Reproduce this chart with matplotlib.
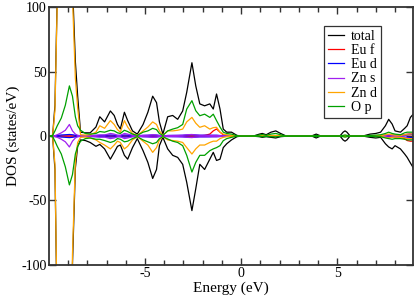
import matplotlib
matplotlib.use("Agg")
import matplotlib.pyplot as plt
from matplotlib.ticker import MultipleLocator

plt.rcParams['font.family'] = ['Liberation Serif', 'DejaVu Serif']
plt.rcParams['axes.unicode_minus'] = False

energy = [-10.0, -9.8, -9.68, -9.56, -9.35, -9.14, -8.93, -8.77, -8.62, -8.5,
          -8.35, -8.1, -7.85, -7.55, -7.35, -7.1, -6.8, -6.6, -6.43, -6.28,
          -6.07, -5.9, -5.65, -5.4, -5.1, -4.85, -4.6, -4.4, -4.25, -4.07,
          -3.82, -3.56, -3.3, -3.04, -2.83, -2.56, -2.36, -2.15, -1.9, -1.63,
          -1.45, -1.28, -1.1, -0.93, -0.75, -0.5, -0.22, 0.0, 0.4, 0.7,
          0.95, 1.1, 1.3, 1.55, 1.8, 2.05, 2.3, 3.7, 3.9, 4.1,
          5.15, 5.3, 5.4, 5.5, 5.65, 6.4, 6.7, 7.0, 7.25, 7.5,
          7.67, 7.85, 8.0, 8.28, 8.5, 8.63, 8.8, 9.0]

total_up = [0, 0.5, 24, 110, 262, 312, 272, 118, 58, 31,
            3, 2.5, 2.5, 7, 15, 11, 19.5, 16, 9, 5.5,
            18.5, 12, 4, 1.5, 9, 18.5, 31, 26, 11, 1.5,
            15, 16, 13, 19.5, 34, 57, 39, 25, 23.5, 25,
            21, 32.7, 21, 5.4, 3, 3, 0.5, 0, 0, 0.3,
            1.5, 2, 1, 3, 4, 2, 0.3, 0.3, 1.5, 0.3,
            0.3, 3, 4, 3, 0.3, 0.3, 1.5, 2, 3, 8,
            13, 9.3, 4, 3, 6, 8, 14.5, 18]
total_dn = [0, -0.5, -26, -150, -265, -315, -275, -100, -25, -8,
            -3, -3.5, -5, -8, -6.5, -10, -18, -12.7, -8, -7,
            -15, -18, -9, -2, -11.4, -20.5, -33, -26, -7.5, -1,
            -10, -15, -16.6, -22, -36, -58, -41, -22, -26, -18,
            -12.7, -19, -18, -9, -6, -3, -0.5, 0, 0, -0.2,
            -0.5, -1, -0.5, -1, -1.5, -0.5, -0.2, -0.2, -1.5, -0.2,
            -0.2, -3, -4, -3, -0.2, -0.2, -1, -1.5, -1, -6,
            -8.5, -10, -7.5, -10, -14, -16.6, -21, -26]

eu_f_up = [0, 0, 0, 0, 0, 0, 0, 0, 0, 0,
           0, 0, 0, 0, 0, 0, 0, 0, 0, 0,
           0, 0, 0, 0, 0, 0, 0, 0, 0, 0,
           0, 0, 0, 0, 0, 0, 0, 0.1, 0.5, 1.5,
           4, 5.5, 3, 1, 0.4, 0.1, 0, 0, 0, 0,
           0, 0, 0, 0, 0, 0, 0, 0, 0, 0,
           0, 0, 0, 0, 0, 0, 0, 0, 0, 0.2,
           0.3, 0.3, 0.3, 0.5, 0.8, 1, 1, 1]
eu_f_dn = [0, 0, 0, 0, 0, 0, 0, 0, 0, 0,
           0, 0, 0, 0, 0, 0, 0, 0, 0, 0,
           0, 0, 0, 0, 0, 0, 0, 0, 0, 0,
           0, 0, 0, 0, 0, 0, 0, 0, -0.1, -0.2,
           -0.3, -0.3, -0.2, -0.1, 0, 0, 0, 0, 0, 0,
           0, 0, 0, 0, 0, 0, 0, 0, 0, 0,
           0, 0, 0, 0, 0, 0, 0, 0, 0, -0.3,
           -0.5, -0.5, -0.8, -1, -2, -3.5, -4, -4]

eu_d_up = [0, 0.1, 0.3, 0.5, 0.8, 1, 1.2, 1, 0.6, 0.4,
           0.3, 0.3, 0.4, 0.5, 0.6, 0.6, 0.8, 0.7, 0.5, 0.5,
           0.8, 0.7, 0.4, 0.2, 0.5, 0.6, 0.8, 0.7, 0.4, 0.2,
           0.4, 0.5, 0.5, 0.6, 0.8, 1, 0.8, 0.6, 0.6, 0.6,
           0.6, 0.6, 0.4, 0.3, 0.2, 0.1, 0, 0, 0, 0,
           0.1, 0.2, 0.1, 0.2, 0.2, 0.1, 0, 0, 0.1, 0,
           0, 0.2, 0.3, 0.2, 0, 0, 0.1, 0.2, 0.2, 0.5,
           0.8, 0.6, 0.5, 0.5, 0.8, 1, 1.2, 1.2]
eu_d_dn = [0, -0.1, -0.3, -0.5, -0.8, -1, -1.2, -1, -0.6, -0.4,
           -0.3, -0.3, -0.4, -0.5, -0.6, -0.6, -0.8, -0.7, -0.5, -0.5,
           -0.8, -0.7, -0.4, -0.2, -0.5, -0.6, -0.8, -0.7, -0.4, -0.2,
           -0.4, -0.5, -0.5, -0.6, -0.8, -1, -0.8, -0.6, -0.6, -0.6,
           -0.5, -0.5, -0.4, -0.3, -0.2, -0.1, 0, 0, 0, 0,
           -0.1, -0.2, -0.1, -0.2, -0.2, -0.1, 0, 0, -0.1, 0,
           0, -0.2, -0.3, -0.2, 0, 0, -0.1, -0.2, -0.2, -0.5,
           -0.8, -0.6, -0.5, -0.5, -0.8, -1, -1.2, -1.2]

zn_s_up = [0, 0.1, 0.3, 1, 2.5, 4.5, 9, 4, 1.5, 0.5,
           0.2, 0.3, 0.3, 0.5, 0.8, 0.8, 2, 1.5, 0.5, 0.5,
           2, 1.5, 0.5, 0.2, 0.5, 0.6, 1, 0.8, 0.4, 0.1,
           0.4, 0.4, 0.5, 0.6, 1, 1.2, 0.8, 0.6, 0.6, 0.5,
           0.5, 0.5, 0.3, 0.2, 0.1, 0.1, 0, 0, 0, 0,
           0.1, 0.2, 0.1, 0.2, 0.3, 0.1, 0, 0, 0.1, 0,
           0, 0.2, 0.3, 0.2, 0, 0, 0.1, 0.1, 0.2, 0.5,
           0.8, 0.5, 0.5, 0.5, 1, 1.5, 2, 2]
zn_s_dn = [0, -0.1, -0.3, -1, -2.5, -4.5, -8.5, -4, -1.5, -0.5,
           -0.2, -0.3, -0.3, -0.5, -0.8, -0.8, -2, -1.5, -0.5, -0.5,
           -2, -1.5, -0.5, -0.2, -0.5, -0.6, -1, -0.8, -0.4, -0.1,
           -0.4, -0.4, -0.5, -0.6, -1, -1.2, -0.8, -0.6, -0.6, -0.5,
           -0.5, -0.5, -0.3, -0.2, -0.1, -0.1, 0, 0, 0, 0,
           -0.1, -0.2, -0.1, -0.2, -0.3, -0.1, 0, 0, -0.1, 0,
           0, -0.2, -0.3, -0.2, 0, 0, -0.1, -0.1, -0.2, -0.5,
           -0.8, -0.5, -0.5, -0.5, -1, -1.5, -2, -2]

zn_d_up = [0, 0.3, 20, 105, 250, 300, 262, 108, 45, 22,
           1, 0.8, 1, 3, 8, 6, 12, 9, 5, 3,
           12, 7, 2, 0.5, 4, 7, 11, 9, 4, 0.5,
           4, 4, 4.5, 5.4, 11, 14.5, 10, 6.8, 8, 5.4,
           6.5, 6.8, 3, 1.5, 1, 0.5, 0.1, 0, 0, 0,
           0.2, 0.3, 0.2, 0.3, 0.4, 0.2, 0, 0, 0.2, 0,
           0, 0.3, 0.5, 0.3, 0, 0, 0.2, 0.3, 0.3, 1,
           1.5, 1, 0.8, 0.5, 1, 1.5, 1.5, 2]
zn_d_dn = [0, -0.3, -22, -145, -255, -305, -265, -92, -20, -5,
           -1, -0.8, -1.5, -3, -5, -7, -10, -7, -4, -5,
           -10, -8, -3, -0.5, -4, -7, -12.7, -9, -3, -0.5,
           -3, -3.5, -4, -5, -9, -14, -10, -7, -7, -5,
           -4, -4, -2, -1, -0.5, -0.3, -0.1, 0, 0, 0,
           -0.1, -0.2, -0.1, -0.2, -0.2, -0.1, 0, 0, -0.2, 0,
           0, -0.3, -0.5, -0.3, 0, 0, -0.2, -0.3, -0.3, -1,
           -1.5, -1, -0.8, -1, -1.5, -2, -2, -2]

o_p_up = [0, 0.5, 4, 8, 14, 24, 39, 31, 15, 8,
          4.5, 2, 1.5, 2, 3.5, 3, 4.5, 4, 2.5, 2,
          4.5, 3.5, 1.5, 0.5, 3, 4, 6, 5, 2, 0.5,
          4, 5.4, 6.5, 9, 21, 27.5, 19.7, 15.8, 17, 14.5,
          17, 12, 7, 3, 2, 1.5, 0.3, 0, 0, 0.2,
          0.8, 1.2, 0.6, 1.5, 2, 1, 0.1, 0.1, 0.5, 0.1,
          0.1, 0.5, 0.8, 0.5, 0.1, 0.1, 0.5, 0.7, 1, 2,
          3, 2, 1.5, 1, 2.5, 3, 3, 3]
o_p_dn = [0, -0.5, -4, -8, -14, -24, -38, -30, -14, -8,
          -4, -2, -1.5, -2.5, -2.5, -3.5, -5, -4, -2, -2.5,
          -4.5, -4, -2, -0.5, -3, -4.5, -6, -5, -2, -0.5,
          -2.3, -4, -5, -7.5, -15, -28, -20.5, -15, -15, -11.4,
          -10, -9, -7.5, -3.6, -2, -1, -0.2, 0, 0, -0.1,
          -0.3, -0.5, -0.3, -0.5, -0.6, -0.3, -0.1, -0.1, -0.5, -0.1,
          -0.1, -0.5, -0.8, -0.5, -0.1, -0.1, -0.3, -0.5, -0.5, -1.5,
          -2, -2.5, -2, -2, -2.5, -3, -3, -3]

labels = ['total', 'Eu f', 'Eu d', 'Zn s', 'Zn d', 'O p']
colors = ['#000000', '#ff0000', '#0000ff', '#a020f0', '#ffa500', '#00a000']
series_up = [total_up, eu_f_up, eu_d_up, zn_s_up, zn_d_up, o_p_up]
series_dn = [total_dn, eu_f_dn, eu_d_dn, zn_s_dn, zn_d_dn, o_p_dn]

fig = plt.figure(figsize=(4.15, 2.98), dpi=100)
ax = fig.add_axes([0.119, 0.112, 0.876, 0.863])

for lab, col, up, dn in zip(labels, colors, series_up, series_dn):
    ax.plot(energy, up, color=col, lw=0.9, label=lab)
    ax.plot(energy, dn, color=col, lw=0.9)

ax.set_xlim(-9.97, 8.93)
ax.set_ylim(-100, 100)
ax.xaxis.set_major_locator(MultipleLocator(5))
ax.xaxis.set_minor_locator(MultipleLocator(1))
ax.yaxis.set_major_locator(MultipleLocator(50))
ax.tick_params(which='both', direction='in', top=True, right=True,
               labelsize=10, pad=2, width=1.0, color='#333333')
ax.tick_params(which='major', length=5)
ax.tick_params(which='minor', length=3.5)
for s in ax.spines.values():
    s.set_linewidth(1.3)
    s.set_color('#333333')

ax.set_xlabel('Energy (eV)', fontsize=11, labelpad=1)
ax.set_ylabel('DOS (states/eV)', fontsize=11, labelpad=1)

leg = ax.legend(loc='upper left', bbox_to_anchor=(0.756, 0.928), borderaxespad=0,
                fontsize=10, labelspacing=0.08, handlelength=1.1, handletextpad=0.55,
                borderpad=0.3, fancybox=False, framealpha=1, edgecolor='#333333')
leg.get_frame().set_linewidth(0.9)

fig.savefig('out.png', dpi=100)
